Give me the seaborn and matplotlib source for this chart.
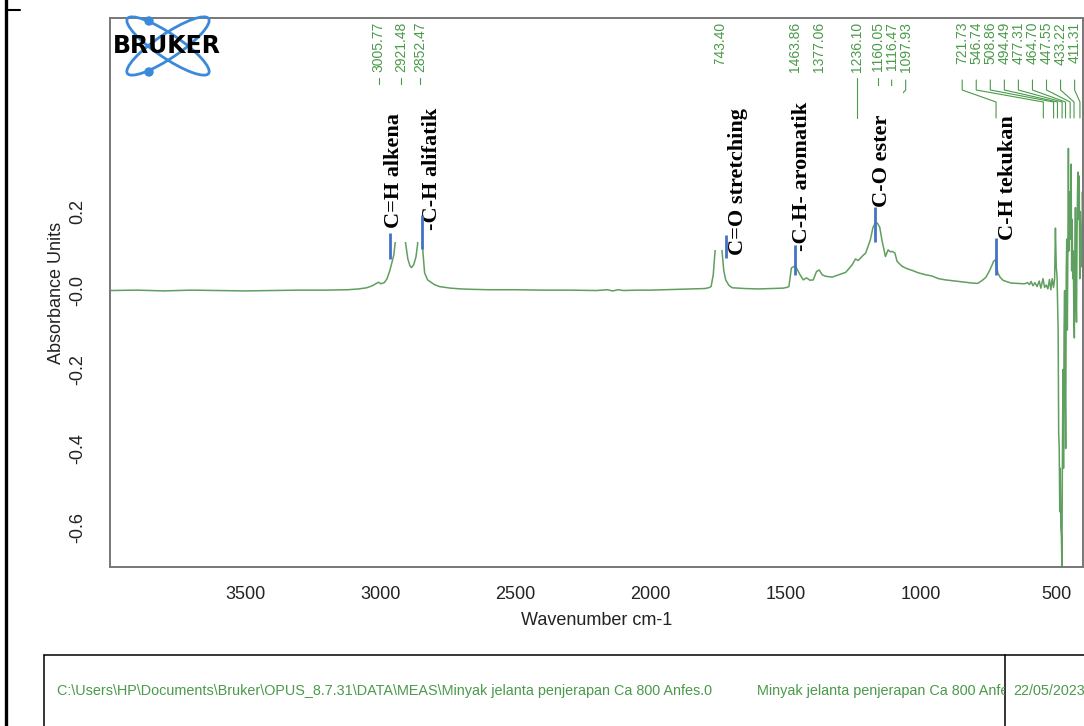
import numpy as np
import pandas as pd
import matplotlib
matplotlib.use("Agg")
import matplotlib.pyplot as plt
import seaborn as sns
from matplotlib.patches import Rectangle, Ellipse, Circle
from matplotlib.lines import Line2D
from matplotlib.transforms import Bbox, TransformedBbox

# ---------------------------------------------------------------- spectrum data
wavenumber = [
    4000, 3900, 3800, 3700, 3600, 3500, 3400, 3300, 3200, 3120, 3080, 3050, 3030,
    3012, 3006, 2998, 2985, 2975, 2965, 2958, 2950, 2944, 2936, 2928, 2921, 2914,
    2907, 2898, 2890, 2884, 2876, 2868, 2862, 2857, 2852, 2847, 2844, 2842, 2836,
    2825, 2800, 2781, 2740, 2700, 2659, 2600, 2500, 2400, 2300, 2200, 2160, 2140,
    2120, 2100, 2050, 2000, 1950, 1900, 1850, 1800, 1785, 1776, 1768, 1761, 1755,
    1748, 1743, 1740, 1736, 1729, 1722, 1710, 1698, 1650, 1600, 1550, 1510, 1495,
    1488, 1479, 1466, 1460, 1447, 1435, 1423, 1410, 1398, 1386, 1376, 1365, 1352,
    1328, 1303, 1278, 1254, 1242, 1232, 1215, 1204, 1187, 1177, 1167, 1160, 1152,
    1144, 1131, 1121, 1113, 1106, 1096, 1088, 1069, 1050, 1032, 1010, 983, 960,
    934, 910, 884, 860, 835, 811, 790, 774, 760, 749, 738, 731, 724, 719, 715, 706,
    696, 680, 666, 640, 617, 605, 598, 592, 585, 578, 570, 562, 556, 548, 542, 536,
    530, 524, 519, 514, 509, 505, 502, 499, 496, 494, 492, 490, 488, 486, 484, 482,
    480, 478, 476, 474, 472, 470, 468, 466, 464, 462, 460, 458, 456, 454, 452, 450,
    448, 446, 444, 442, 440, 438, 436, 434, 432, 430, 428, 426, 424, 422, 420, 418,
    416, 414, 412, 410, 408, 405, 402, 400,
]
absorbance = [
    0.000, 0.001, -0.001, 0.001, 0.000, -0.001, 0.000, 0.001, 0.001, 0.002, 0.004, 0.007, 0.012,
    0.019, 0.021, 0.017, 0.020, 0.030, 0.050, 0.068, 0.090, 0.125, 0.200, 0.330, 0.420, 0.300,
    0.123, 0.080, 0.062, 0.058, 0.066, 0.085, 0.116, 0.220, 0.290, 0.200, 0.121, 0.095, 0.045,
    0.027, 0.015, 0.010, 0.006, 0.004, 0.003, 0.002, 0.002, 0.001, 0.001, 0.000, 0.002, -0.001,
    0.002, 0.000, 0.001, 0.001, 0.002, 0.003, 0.004, 0.005, 0.007, 0.010, 0.040, 0.103, 0.220,
    0.400, 0.350, 0.200, 0.103, 0.050, 0.027, 0.013, 0.007, 0.005, 0.004, 0.005, 0.006, 0.008,
    0.010, 0.057, 0.062, 0.057, 0.040, 0.027, 0.032, 0.026, 0.027, 0.048, 0.052, 0.040, 0.036,
    0.034, 0.040, 0.046, 0.065, 0.080, 0.076, 0.088, 0.095, 0.128, 0.160, 0.172, 0.170, 0.160,
    0.128, 0.086, 0.103, 0.098, 0.099, 0.095, 0.074, 0.061, 0.055, 0.051, 0.045, 0.040, 0.037,
    0.030, 0.027, 0.025, 0.023, 0.021, 0.019, 0.018, 0.025, 0.033, 0.046, 0.062, 0.074, 0.078, 0.060, 0.044, 0.033,
    0.026, 0.022, 0.019, 0.018, 0.017, 0.020, 0.015, 0.023, 0.012, 0.020, 0.010, 0.024, 0.006, 0.030, 0.008, 0.014,
    0.004, 0.028, 0.002, 0.030, 0.008, 0.030, 0.158, 0.060, 0.035, -0.030, -0.100, -0.360, -0.400, -0.560, -0.450, -0.600,
    -0.620, -0.700, -0.400, -0.200, -0.450, -0.100, 0.000, -0.250, -0.400, 0.050, 0.130, -0.100, 0.100, 0.360, 0.100, 0.250,
    0.130, 0.200, 0.320, 0.050, 0.180, 0.030, 0.100, -0.050, -0.120, 0.080, 0.210, -0.020, -0.080, 0.150, 0.260, 0.300,
    0.180, 0.290, 0.030, 0.200, 0.110, 0.060, 0.250, 0.160,
]

# picked peaks (cm-1) and the band assignments written on the chart
peak_positions = [3005.77, 2921.48, 2852.47, 1743.40, 1463.86, 1377.06, 1236.10,
                  1160.05, 1116.47, 1097.93, 721.73, 546.74, 508.86, 494.49,
                  477.31, 464.70, 447.55, 433.22, 411.31]
band_names = ["C=H alkena", "-C-H alifatik", "C=O stretching",
              "-C-H- aromatik", "C-O ester", "C-H tekukan"]
band_marker_wn = [2963, 2844, 1722, 1466, 1170, 723]
band_marker_lo = [0.080, 0.106, 0.083, 0.040, 0.123, 0.040]
band_marker_hi = [0.146, 0.192, 0.141, 0.116, 0.212, 0.134]

x_ticks = [3500, 3000, 2500, 2000, 1500, 1000, 500]
y_ticks = [-0.6, -0.4, -0.2, 0.0, 0.2]
y_tick_labels = ["-0.6", "-0.4", "-0.2", "-0.0", "0.2"]

file_path = r"C:\Users\HP\Documents\Bruker\OPUS_8.7.31\DATA\MEAS\Minyak jelanta penjerapan Ca 800 Anfes.0"
sample_name = "Minyak jelanta penjerapan Ca 800 Anfe"
meas_date = "22/05/2023"

# ---------------------------------------------------------------- style
W, H, DPI = 1084, 726, 100
sns.set_theme(style="white")
plt.rcParams["font.family"] = ["Liberation Sans", "DejaVu Sans"]

GREEN = "#4a9a4a"
LINE_GREEN = "#5f9f5f"
BLUE = "#4472c4"
AX_GREY = "#777777"

fig = plt.figure(figsize=(W / DPI, H / DPI), dpi=DPI)
fig.patch.set_facecolor("white")

# plot area in pixel terms
AX_L, AX_R, AX_T, AX_B = 110, 1083, 18, 567
ax = fig.add_axes([AX_L / W, 1 - AX_B / H, (AX_R - AX_L) / W, (AX_B - AX_T) / H])


def frac(ypx):
    """vertical pixel position -> axes fraction"""
    return (AX_B - ypx) / (AX_B - AX_T)


df = pd.DataFrame({"Wavenumber": wavenumber, "Absorbance": absorbance})
sns.lineplot(data=df, x="Wavenumber", y="Absorbance", sort=False, estimator=None,
             color=LINE_GREEN, linewidth=1.1, ax=ax, zorder=2)

ax.set_xlim(4000, 400)
ax.set_ylim(-0.70, 0.69)
ax.set_xticks(x_ticks)
ax.set_xticklabels([str(t) for t in x_ticks])
ax.set_yticks(y_ticks)
ax.set_yticklabels(y_tick_labels, rotation=90, va="center")
ax.tick_params(axis="both", direction="out", length=8, width=1.0, color=AX_GREY,
               labelsize=13, labelcolor="#222222")
ax.tick_params(axis="x", pad=6)
ax.tick_params(axis="y", pad=9)
ax.set_xlabel("Wavenumber cm-1", fontsize=13, color="#222222", labelpad=6)
ax.set_ylabel("Absorbance Units", fontsize=13, color="#222222", labelpad=3)
for s in ax.spines.values():
    s.set_color(AX_GREY)
    s.set_linewidth(1.4)
    s.set_visible(True)
ax.grid(False)

# ---------------------------------------------------------------- peak labels
xt = ax.get_xaxis_transform()
MIN_GAP = 52.0      # cm-1 between neighbouring labels
RIGHT_EDGE = 431.0  # last label position allowed near the right border
label_pos = list(peak_positions)
for i in range(1, len(label_pos)):
    label_pos[i] = min(label_pos[i], label_pos[i - 1] - MIN_GAP)
label_pos[-1] = max(label_pos[-1], RIGHT_EDGE)
for i in range(len(label_pos) - 2, -1, -1):
    label_pos[i] = max(label_pos[i], label_pos[i + 1] + MIN_GAP)

for pk, lp in zip(peak_positions, label_pos):
    ax.text(lp, frac(22), f"{pk:.2f}", rotation=90, ha="center", va="top",
            fontsize=10, color=GREEN, transform=xt, zorder=2.5)
    if abs(lp - pk) < 1.0:
        xs, ys = [pk, pk], [frac(78), frac(118)]
    else:
        xs = [lp, lp, pk, pk]
        ys = [frac(80), frac(90), frac(102), frac(118)]
    ax.add_line(Line2D(xs, ys, color=GREEN, lw=0.8, transform=xt, zorder=2.2))

# white backing placed under the band annotations
backings = [  # (wn_high, wn_low, ypx_top, ypx_bottom)
    (3017, 2781, 85, 242),
    (1802, 1643, 64, 250),
    (1502, 1355, 74, 252),
    (1214, 1067, 86, 214),
]
for hi, lo, yt, yb in backings:
    ax.add_patch(Rectangle((lo, frac(yb)), hi - lo, frac(yt) - frac(yb),
                           facecolor="white", edgecolor="none", transform=xt, zorder=3))

# band annotations: text centre (cm-1) and text foot (absorbance)
band_text_wn = [2950, 2807, 1676, 1440, 1144, 679]
band_text_foot = [0.159, 0.153, 0.091, 0.100, 0.212, 0.128]
for name, wx, lo, hi, tx, ty in zip(band_names, band_marker_wn, band_marker_lo,
                                    band_marker_hi, band_text_wn, band_text_foot):
    ax.plot([wx, wx], [lo, hi], color=BLUE, lw=2.0, zorder=4.6, solid_capstyle="butt")
    ax.text(tx, ty, name, rotation=90, ha="center", va="bottom",
            fontsize=16, fontweight="bold", family=["Liberation Serif", "DejaVu Serif"],
            color="black", zorder=4.5)

# ---------------------------------------------------------------- page decorations
deco = fig.add_axes([0, 0, 1, 1], zorder=5)
deco.set_xlim(0, W)
deco.set_ylim(H, 0)
deco.axis("off")
deco.patch.set_visible(False)

# logo
LOGO_BLUE = "#3b8ad9"
for ang in (34, -34):
    deco.add_patch(Ellipse((168, 46), 98, 24, angle=ang, facecolor="none",
                           edgecolor=LOGO_BLUE, lw=2.0))
deco.add_patch(Circle((149, 21), 4, color=LOGO_BLUE))
deco.add_patch(Circle((149, 72), 4, color=LOGO_BLUE))
deco.text(167, 46, "BRUKER", ha="center", va="center", fontsize=17,
          fontweight="bold", family="DejaVu Sans", color="black")

# page border fragments
deco.add_line(Line2D([6, 6], [0, H], color="black", lw=2.4))
deco.add_line(Line2D([6, 20], [9.5, 9.5], color="black", lw=1.5))

# footer box
for xs, ys in (([44, W], [655, 655]), ([44, 44], [655, H]), ([1005, 1005], [655, H])):
    deco.add_line(Line2D(xs, ys, color="black", lw=1.1))

FOOT = dict(ha="left", va="center", fontsize=10, family="Liberation Sans", color=GREEN)
t1 = deco.text(57, 691, file_path, **FOOT)
t2 = deco.text(757, 691, sample_name, **FOOT)
t3 = deco.text(1013, 691, meas_date, **FOOT)

# size the footer line so the path spans its field
fig.canvas.draw()
width_now = t1.get_window_extent().width
size = 10 * 659.0 / width_now
for t in (t1, t2, t3):
    t.set_fontsize(size)
t2.set_clip_box(TransformedBbox(Bbox([[700, 650], [1005, H]]), deco.transData))
t2.set_clip_on(True)

fig.savefig("out.png", dpi=DPI, facecolor="white")
